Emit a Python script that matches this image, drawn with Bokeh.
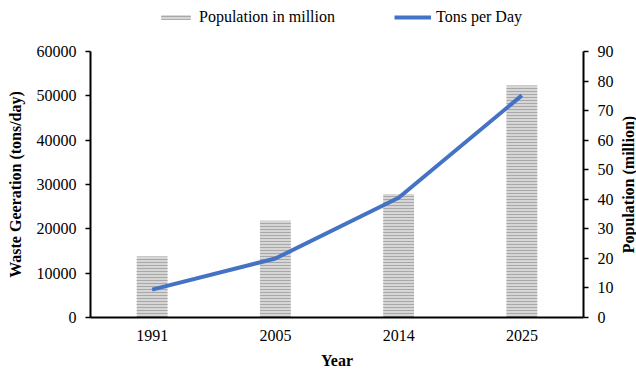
import math
from bokeh.plotting import figure
from bokeh.layouts import column, row
from bokeh.models import (Range1d, FactorRange, LinearAxis, FixedTicker,
                          ColumnDataSource, Legend, LegendItem, Label)
from bokeh.embed import file_html
from bokeh.resources import INLINE

# Data
years = ["1991", "2005", "2014", "2025"]
population_million = [20.6, 32.7, 41.8, 78.5]
tons_per_day = [6300, 13300, 27000, 50100]
waste_ticks = [0, 10000, 20000, 30000, 40000, 50000, 60000]
pop_ticks = [0, 10, 20, 30, 40, 50, 60, 70, 80, 90]

FONT = "Liberation Serif"
BLUE = "#4472C4"
BAR_STYLE = dict(fill_color="#d6d6d6", line_color=None,
                 hatch_pattern="horizontal_line", hatch_color="#a8a8a8",
                 hatch_scale=3, hatch_weight=1)
LINE_STYLE = dict(line_color=BLUE, line_width=4)

src = ColumnDataSource(dict(year=years, pop=population_million, tons=tons_per_day))

# ---- main chart ----
p = figure(width=620, height=330, output_backend="svg", toolbar_location=None,
           x_range=FactorRange(factors=years, range_padding=0),
           y_range=Range1d(0, 60000),
           min_border_left=90, min_border_right=37,
           min_border_top=10, min_border_bottom=53,
           outline_line_color=None, background_fill_color="white",
           border_fill_color="white")
p.extra_y_ranges = {"pop": Range1d(0, 90)}
p.xgrid.visible = False
p.ygrid.visible = False

# Population bars on the secondary axis
bars = p.vbar(x="year", top="pop", width=0.25, source=src, y_range_name="pop",
              **BAR_STYLE)
# Waste generation line on the primary axis
line = p.line(x="year", y="tons", source=src, **LINE_STYLE)

def style_axis(ax):
    ax.axis_line_color = "black"
    ax.axis_line_width = 2
    ax.major_tick_line_color = "black"
    ax.major_tick_line_width = 1.5
    ax.major_tick_in = 0
    ax.major_tick_out = 5
    ax.minor_tick_line_color = None
    ax.major_label_text_font = FONT
    ax.major_label_text_font_size = "16px"
    ax.major_label_text_color = "black"
    ax.axis_label_text_font = FONT
    ax.axis_label_text_font_size = "16px"
    ax.axis_label_text_font_style = "bold"
    ax.axis_label_text_color = "black"

left = p.yaxis[0]
style_axis(left)
left.ticker = FixedTicker(ticks=waste_ticks)
left.axis_label = "Waste Geeration (tons/day)"
left.major_label_standoff = 9
left.axis_label_standoff = 10

right = LinearAxis(y_range_name="pop", ticker=FixedTicker(ticks=pop_ticks))
style_axis(right)
right.major_label_standoff = 9
p.add_layout(right, "right")

bottom = p.xaxis[0]
style_axis(bottom)
bottom.major_tick_out = 0
bottom.major_label_standoff = 12
bottom.axis_label = "Year"
bottom.axis_label_standoff = 8

# ---- secondary axis title, reading bottom to top ----
rlab = figure(width=16, height=330, output_backend="svg", toolbar_location=None,
              x_range=Range1d(0, 1), y_range=Range1d(0, 1),
              min_border_left=0, min_border_right=0,
              min_border_top=10, min_border_bottom=53,
              outline_line_color=None, background_fill_color="white",
              border_fill_color="white")
rlab.axis.visible = False
rlab.xgrid.visible = False
rlab.ygrid.visible = False
rlab.add_layout(Label(x=0.5, y=0.5, text="Population (million)", angle=math.pi / 2,
                      text_align="center", text_baseline="middle",
                      text_font=FONT, text_font_size="16px",
                      text_font_style="bold", text_color="black"))

# ---- legend strip above the chart ----
# Single blank row: only the legend swatches of these renderers are seen.
legend_src = ColumnDataSource(dict(year=[years[0]], pop=[float("nan")],
                                   tons=[float("nan")]))
lg = figure(width=636, height=41, output_backend="svg", toolbar_location=None,
            x_range=FactorRange(factors=years), y_range=Range1d(0, 1),
            min_border_left=90, min_border_right=53,
            min_border_top=0, min_border_bottom=0,
            outline_line_color=None,
            background_fill_color="white", border_fill_color="white")
lg.axis.visible = False
lg.xgrid.visible = False
lg.ygrid.visible = False
lg_bars = lg.vbar(x="year", top="pop", width=0.25, source=legend_src, **BAR_STYLE)
lg_line = lg.line(x="year", y="tons", source=legend_src, **LINE_STYLE)

legend = Legend(items=[LegendItem(label="Population in million", renderers=[lg_bars]),
                       LegendItem(label="Tons per Day", renderers=[lg_line])],
                orientation="horizontal", location=(67, 15),
                label_text_font=FONT, label_text_font_size="16px",
                label_text_color="black",
                glyph_width=37, glyph_height=6, label_height=16,
                label_standoff=5, spacing=59, padding=0, margin=0,
                border_line_color=None, background_fill_alpha=0)
lg.add_layout(legend, "center")

layout = column(lg, row(p, rlab, spacing=0), spacing=0)
open("out.html", "w").write(file_html(layout, INLINE))
